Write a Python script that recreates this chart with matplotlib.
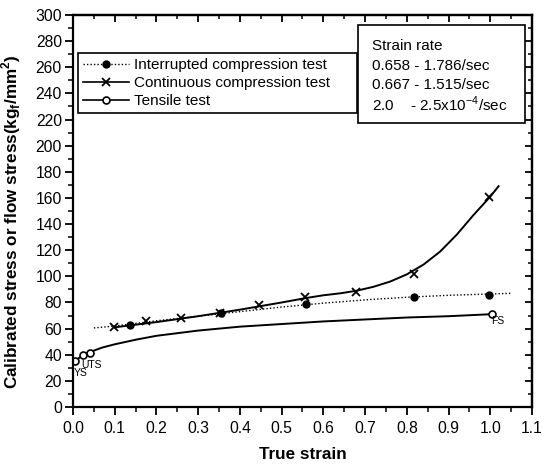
import matplotlib
matplotlib.use("Agg")
import matplotlib.pyplot as plt
from matplotlib.lines import Line2D
from matplotlib.patches import Rectangle
from matplotlib.ticker import MultipleLocator

plt.rcParams["font.family"] = ["Liberation Sans", "DejaVu Sans"]
plt.rcParams["mathtext.fontset"] = "custom"
plt.rcParams["mathtext.rm"] = "Liberation Sans"
plt.rcParams["mathtext.bf"] = "Liberation Sans:bold"

# measured points
interrupted_x = [0.136, 0.355, 0.558, 0.818, 0.998]
interrupted_y = [63, 72, 79, 84, 86]
continuous_x = [0.098, 0.174, 0.258, 0.353, 0.445, 0.557, 0.679, 0.818, 0.998]
continuous_y = [61.5, 65.5, 68, 72, 78, 84, 88, 101.5, 161]
tensile_x = [0.005, 0.023, 0.041, 1.003]
tensile_y = [35.5, 39.5, 41.5, 71.5]

# fitted curves
interrupted_fit_x = [0.05, 0.1, 0.2, 0.3, 0.4, 0.5, 0.6, 0.7, 0.8, 0.9, 1.0, 1.05]
interrupted_fit_y = [60.5, 62, 66, 69.5, 73, 76.5, 79.5, 82, 84, 85.5, 86.5, 87]
continuous_fit_x = [0.1, 0.2, 0.3, 0.4, 0.5, 0.56, 0.6, 0.64, 0.68, 0.72, 0.76,
                    0.8, 0.84, 0.88, 0.92, 0.96, 1.0, 1.02]
continuous_fit_y = [61, 65, 69.5, 74.5, 80, 83.5, 85.5, 87, 89, 92, 96,
                    101.5, 109, 119, 132, 147, 161, 169]
tensile_fit_x = [0.0, 0.005, 0.02, 0.04, 0.07, 0.1, 0.15, 0.2, 0.3, 0.4, 0.5,
                 0.6, 0.7, 0.8, 0.9, 1.0]
tensile_fit_y = [32, 35, 39, 42, 45.5, 48, 51.5, 54.5, 58.5, 61.5, 63.5,
                 65.5, 67, 68.5, 69.5, 71]

legend_labels = ["Interrupted compression test", "Continuous compression test",
                 "Tensile test"]
rate_lines = ["Strain rate", "0.658 - 1.786/sec", "0.667 - 1.515/sec",
              "2.0    - 2.5x10$^{-4}$/sec"]

fig = plt.figure(figsize=(5.42, 4.65), dpi=100)
ax = fig.add_axes([0.1347, 0.1247, 0.8468, 0.843])

ax.plot(interrupted_fit_x, interrupted_fit_y, color="black", lw=1.0, ls=(0, (1, 1.5)))
ax.plot(continuous_fit_x, continuous_fit_y, color="black", lw=1.4)
ax.plot(tensile_fit_x, tensile_fit_y, color="black", lw=1.4)

ax.plot(interrupted_x, interrupted_y, ls="none", marker="o", ms=5, color="black")
ax.plot(continuous_x, continuous_y, ls="none", marker="x", ms=6, mew=1.3, color="black")
ax.plot(tensile_x, tensile_y, ls="none", marker="o", ms=5, mfc="white",
        mec="black", mew=1.2)

ax.text(0.002, 26, "YS", fontsize=7.5, va="center", ha="left")
ax.text(0.02, 32, "UTS", fontsize=7.5, va="center", ha="left")
ax.text(1.003, 66, "FS", fontsize=7.5, va="center", ha="left")

ax.set_xlim(0, 1.1)
ax.set_ylim(0, 300)
ax.xaxis.set_major_locator(MultipleLocator(0.1))
ax.xaxis.set_minor_locator(MultipleLocator(0.05))
ax.yaxis.set_major_locator(MultipleLocator(20))
ax.yaxis.set_minor_locator(MultipleLocator(10))
ax.set_xticklabels([f"{v:.1f}" for v in ax.get_xticks()])

ax.tick_params(which="major", direction="out", length=6, width=1.3, labelsize=11.3)
ax.tick_params(which="minor", direction="out", length=3.5, width=1.1)
ax.tick_params(axis="x", pad=4)
ax.tick_params(axis="y", pad=2)

for side in ["top", "right"]:
    if side == "top":
        sec = ax.secondary_xaxis("top")
        sec.xaxis.set_major_locator(MultipleLocator(0.1))
        sec.xaxis.set_minor_locator(MultipleLocator(0.05))
    else:
        sec = ax.secondary_yaxis("right")
        sec.yaxis.set_major_locator(MultipleLocator(20))
        sec.yaxis.set_minor_locator(MultipleLocator(10))
    sec.tick_params(which="major", direction="in", length=5, width=1.3,
                    labeltop=False, labelright=False)
    sec.tick_params(which="minor", direction="in", length=3, width=1.1)
    for sp in sec.spines.values():
        sp.set_linewidth(1.6)

for sp in ax.spines.values():
    sp.set_linewidth(1.6)

ax.set_xlabel("True strain", fontsize=12.3, fontweight="bold", labelpad=8)
ax.set_ylabel(r"Calibrated stress or flow stress(kg$_\mathbf{f}$/mm$^\mathbf{2}$)",
              fontsize=12.3, fontweight="bold")
ax.yaxis.set_label_coords(-0.108, 0.474)

handles = [
    Line2D([], [], color="black", lw=1.0, ls=(0, (1, 1.5)), marker="o", ms=5),
    Line2D([], [], color="black", lw=1.2, marker="x", ms=6, mew=1.3),
    Line2D([], [], color="black", lw=1.2, marker="o", ms=5, mfc="white", mew=1.2),
]
leg = ax.legend(handles, legend_labels, loc="upper left",
                bbox_to_anchor=(0.011, 0.70, 0.608, 0.203), mode="expand",
                borderaxespad=0, fontsize=11,
                fancybox=False, edgecolor="black", framealpha=1,
                handlelength=3.0, handletextpad=0.3, labelspacing=0.25,
                borderpad=0.35)
leg.get_frame().set_linewidth(1.2)

ax.add_patch(Rectangle((0.621, 0.724), 0.364, 0.25, transform=ax.transAxes,
                       fill=True, facecolor="white", edgecolor="black", lw=1.2,
                       zorder=5))
for i, line in enumerate(rate_lines):
    ax.text(0.652, 0.92 - i * 0.0495, line, transform=ax.transAxes,
            fontsize=11, va="center", ha="left", zorder=6)

fig.savefig("out.png", dpi=100)
